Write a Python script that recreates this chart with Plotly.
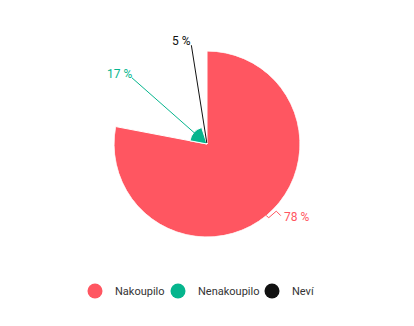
import math
import plotly.graph_objects as go

categories = ["Nakoupilo", "Nenakoupilo", "Neví"]
values = [78, 17, 5]
labels = ["78 %", "17 %", "5 %"]
colors = ["#ff5661", "#05b58d", "#111111"]
label_colors = ["#ff5661", "#05b58d", "#111111"]

W, H = 414, 326
CX, CY, RPX = 207, 144, 93
RMIN = 3
RMAX = max(values)
LEGEND_X = [96, 179, 273]  # legend symbol centres (px)

fig = go.Figure()

start = 0.0
mids = []
for cat, v, col in zip(categories, values, colors):
    width = v * 3.6
    mid = start + width / 2
    mids.append(mid)
    fig.add_trace(go.Barpolar(
        r=[v], theta=[mid], width=[width], base=[0],
        marker=dict(color=col, line=dict(color="white", width=1)),
        name=cat, showlegend=False, hoverinfo="skip"))
    start += width

legend_names = ["legend", "legend2", "legend3"]
for cat, col, ln in zip(categories, colors, legend_names):
    fig.add_trace(go.Scatterpolar(
        r=[None], theta=[None], mode="markers", name=cat, legend=ln,
        marker=dict(color=col, size=15, symbol="circle")))

def px(r_px, ang):
    a = math.radians(ang)
    return CX + r_px * math.sin(a), CY - r_px * math.cos(a)

def paper(x, y):
    return x / W, 1 - y / H

def rpx(v):
    return RPX * (v - RMIN) / (RMAX - RMIN)

shapes = []
annotations = []
for i, (v, lab, lc, mid) in enumerate(zip(values, labels, label_colors, mids)):
    if mid > 180:
        r0 = max(rpx(v) - 4, 1)
        r1 = 100
        x0, y0 = px(r0, mid)
        x1, y1 = px(r1, mid)
        p0 = paper(x0, y0)
        p1 = paper(x1, y1)
        shapes.append(dict(type="line", xref="paper", yref="paper",
                           x0=p0[0], y0=p0[1], x1=p1[0], y1=p1[1],
                           line=dict(color=lc, width=1)))
        annotations.append(dict(x=p1[0], y=p1[1], xref="paper", yref="paper",
                                text=lab, showarrow=False, xanchor="right",
                                yanchor="bottom", xshift=2, yshift=-5,
                                font=dict(color=lc, size=12, family="Roboto")))
    else:
        ex, ey = px(rpx(v), mid)
        pts = [(ex, ey), (ex + 2.5, ey + 2), (ex + 10, ey - 4.5), (ex + 14.5, ey)]
        path = "M " + " L ".join(
            "%f,%f" % paper(x, y) for x, y in pts)
        shapes.append(dict(type="path", xref="paper", yref="paper", path=path,
                           line=dict(color=lc, width=1)))
        tx, ty = paper(ex + 16, ey + 1)
        annotations.append(dict(x=tx, y=ty, xref="paper", yref="paper",
                                text=lab, showarrow=False, xanchor="left",
                                yanchor="middle",
                                font=dict(color=lc, size=12, family="Roboto")))

legends = {}
for ln, lx in zip(legend_names, LEGEND_X):
    legends[ln] = dict(orientation="h", x=(lx - 21) / W, y=1 - 291 / H,
                       xanchor="left", yanchor="middle",
                       font=dict(size=11, color="#333333", family="Roboto"),
                       itemclick=False, bgcolor="rgba(0,0,0,0)")

fig.update_layout(
    width=W, height=H,
    margin=dict(l=0, r=0, t=0, b=0),
    paper_bgcolor="white", plot_bgcolor="white",
    font=dict(family="Roboto", size=12, color="#333333"),
    polar=dict(
        domain=dict(x=[(CX - RPX) / W, (CX + RPX) / W],
                    y=[1 - (CY + RPX) / H, 1 - (CY - RPX) / H]),
        bgcolor="rgba(0,0,0,0)",
        hole=0,
        bargap=0,
        radialaxis=dict(range=[RMIN, RMAX], visible=False, showgrid=False),
        angularaxis=dict(rotation=90, direction="clockwise", visible=False,
                         showgrid=False),
    ),
    shapes=shapes,
    annotations=annotations,
    **legends,
)

fig.write_html("out.html")
